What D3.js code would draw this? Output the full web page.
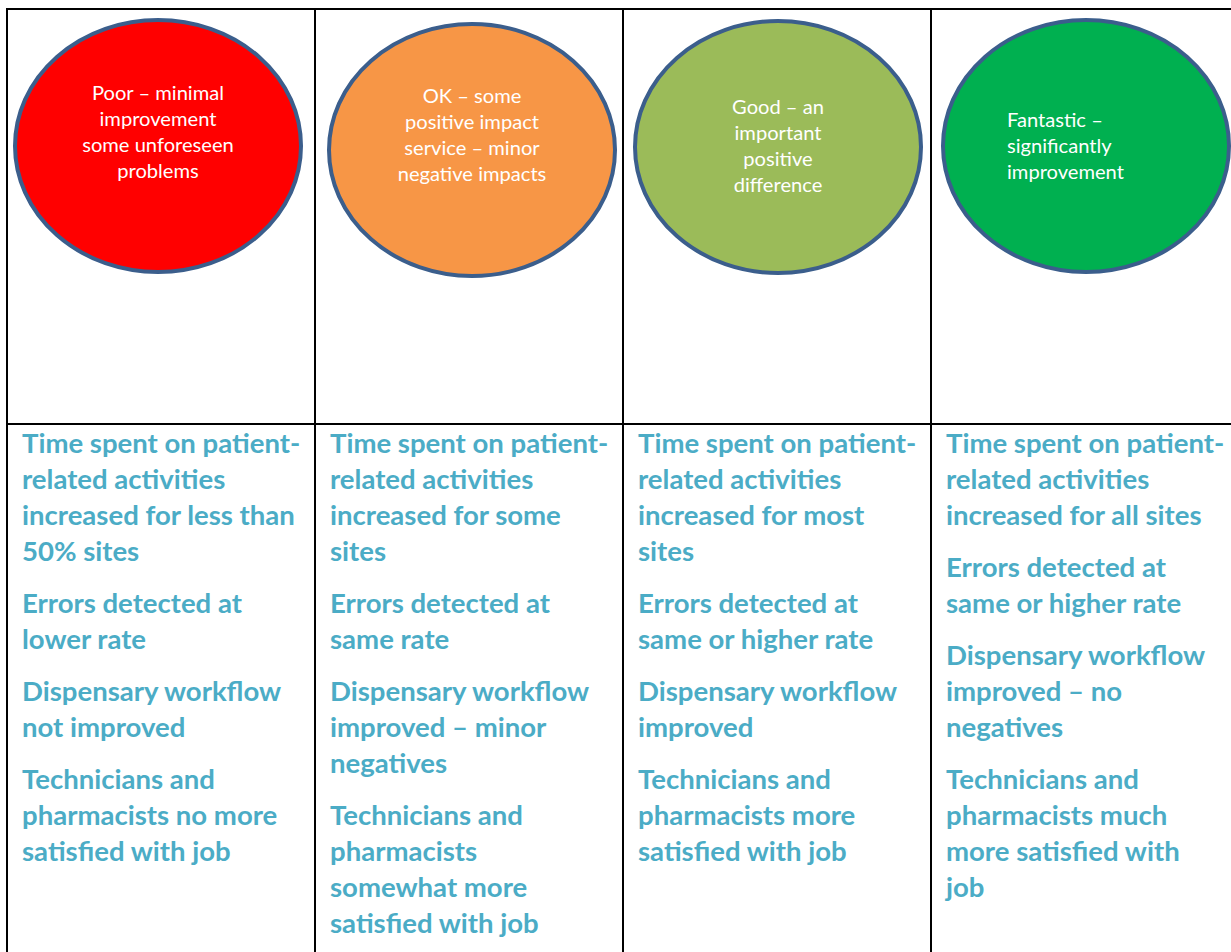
<!DOCTYPE html>
<html>
<head>
<meta charset="utf-8">
<script src="https://cdn.jsdelivr.net/npm/d3@7"></script>
<style>
  html, body { margin: 0; padding: 0; background: #ffffff; }
  svg { display: block; }
</style>
</head>
<body>
<svg id="chart" width="1231" height="952"></svg>
<script>
// ---- data ----
const ratings = ["Poor", "OK", "Good", "Fantastic"];
const ratingColors = ["#ff0000", "#f79646", "#9bbb59", "#00b050"];
const ratingLabels = [
  ["Poor \u2013 minimal", "improvement", "some unforeseen", "problems"],
  ["OK \u2013 some", "positive impact", "service \u2013 minor", "negative impacts"],
  ["Good \u2013 an", "important", "positive", "difference"],
  ["Fantastic \u2013", "significantly", "improvement"]
];
const timeCriteria = [
  ["Time spent on patient-", "related activities", "increased for less than", "50% sites"],
  ["Time spent on patient-", "related activities", "increased for some", "sites"],
  ["Time spent on patient-", "related activities", "increased for most", "sites"],
  ["Time spent on patient-", "related activities", "increased for all sites"]
];
const errorCriteria = [
  ["Errors detected at", "lower rate"],
  ["Errors detected at", "same rate"],
  ["Errors detected at", "same or higher rate"],
  ["Errors detected at", "same or higher rate"]
];
const workflowCriteria = [
  ["Dispensary workflow", "not improved"],
  ["Dispensary workflow", "improved \u2013 minor", "negatives"],
  ["Dispensary workflow", "improved"],
  ["Dispensary workflow", "improved \u2013 no", "negatives"]
];
const satisfactionCriteria = [
  ["Technicians and", "pharmacists no more", "satisfied with job"],
  ["Technicians and", "pharmacists", "somewhat more", "satisfied with job"],
  ["Technicians and", "pharmacists more", "satisfied with job"],
  ["Technicians and", "pharmacists much", "more satisfied with", "job"]
];

// ---- layout ----
const W = 1231, H = 952;
const tableLeft = 7, tableTop = 9, rowSplit = 424, colWidth = 308;
const ellipseCx = [151, 157, 155, 155];
const ellipseCy = [146, 150, 147, 146];
const ellipseRx = 143, ellipseRy = 126;
const labelBaseline = [100, 103, 114, 127];
const labelStep = 26;
const textLeftPad = 15;
const critBaseline = 453, critStep = 36, paraGap = 16;

const svg = d3.select("#chart");
const x = d3.scaleBand().domain(ratings).range([tableLeft, tableLeft + colWidth * ratings.length]).padding(0);

const fontFamily = "Lato, 'Open Sans', 'Liberation Sans', sans-serif";

// fit font sizes to reference widths
function fitSize(text, weight, targetWidth) {
  const t = svg.append("text").attr("font-family", fontFamily).attr("font-weight", weight)
    .attr("font-size", 100).text(text);
  const w = t.node().getComputedTextLength();
  t.remove();
  return 100 * targetWidth / w;
}
const labelSize = fitSize("improvement", 400, 117);
const critSize = fitSize("increased for less than", 700, 273);

// ellipses
const cols = svg.selectAll("g.col").data(ratings).join("g").attr("class", "col");

cols.append("ellipse")
  .attr("cx", (d, i) => x(d) + ellipseCx[i])
  .attr("cy", (d, i) => ellipseCy[i])
  .attr("rx", ellipseRx)
  .attr("ry", ellipseRy)
  .attr("fill", (d, i) => ratingColors[i])
  .attr("stroke", "#3b5e8c")
  .attr("stroke-width", 4);

cols.each(function (d, i) {
  const g = d3.select(this);
  const leftAligned = i === 3;
  g.selectAll("text.label").data(ratingLabels[i]).join("text")
    .attr("class", "label")
    .attr("x", leftAligned ? x(d) + 76 : x(d) + ellipseCx[i])
    .attr("y", (t, k) => labelBaseline[i] + k * labelStep)
    .attr("text-anchor", leftAligned ? "start" : "middle")
    .attr("font-family", fontFamily)
    .attr("font-size", labelSize)
    .attr("fill", "#ffffff")
    .text(t => t);

  // criteria paragraphs
  const paras = [timeCriteria[i], errorCriteria[i], workflowCriteria[i], satisfactionCriteria[i]];
  let lineIdx = 0;
  const lines = [];
  paras.forEach((p, pi) => {
    p.forEach(line => {
      lines.push({ text: line, y: critBaseline + lineIdx * critStep + pi * paraGap });
      lineIdx++;
    });
  });
  g.selectAll("text.crit").data(lines).join("text")
    .attr("class", "crit")
    .attr("x", x(d) + textLeftPad)
    .attr("y", l => l.y)
    .attr("font-family", fontFamily)
    .attr("font-weight", 700)
    .attr("font-size", critSize)
    .attr("fill", "#4bacc6")
    .text(l => l.text);
});

// grid lines
const grid = svg.append("g").attr("stroke", "#000").attr("stroke-width", 2);
grid.append("line").attr("x1", tableLeft).attr("x2", W).attr("y1", tableTop).attr("y2", tableTop);
grid.append("line").attr("x1", tableLeft).attr("x2", W).attr("y1", rowSplit).attr("y2", rowSplit);
grid.selectAll("line.v").data(ratings).join("line").attr("class", "v")
  .attr("x1", d => x(d)).attr("x2", d => x(d))
  .attr("y1", tableTop - 1).attr("y2", H);
</script>
</body>
</html>
